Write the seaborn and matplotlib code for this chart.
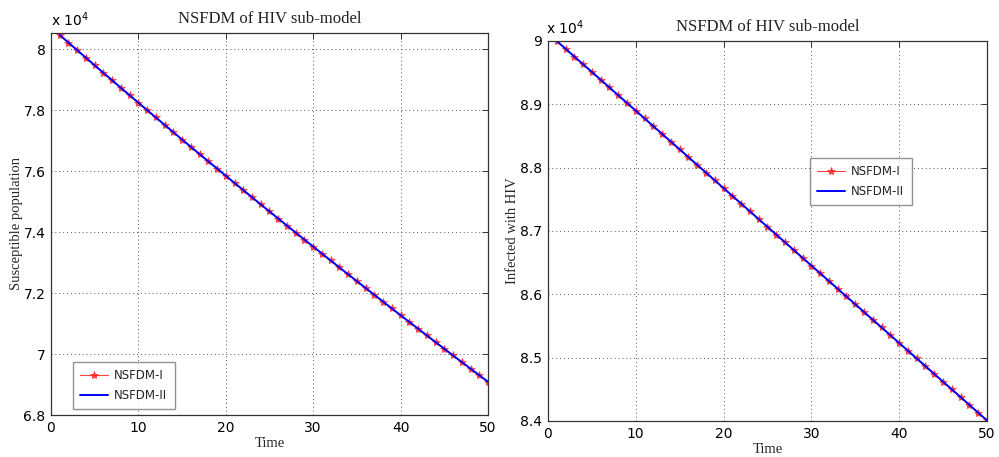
import numpy as np
import pandas as pd
import matplotlib
matplotlib.use("Agg")
import matplotlib.pyplot as plt
import seaborn as sns

# ---------------- data ----------------
time = list(range(1, 51))

susceptible_I = [80470, 80220, 79971, 79722, 79475, 79228, 78982, 78736, 78492, 78248,
                 78005, 77763, 77521, 77280, 77040, 76800, 76562, 76324, 76087, 75850,
                 75615, 75380, 75145, 74912, 74679, 74447, 74216, 73985, 73755, 73526,
                 73297, 73070, 72843, 72616, 72391, 72166, 71942, 71718, 71495, 71273,
                 71052, 70831, 70611, 70391, 70173, 69955, 69737, 69521, 69305, 69089]
susceptible_II = list(susceptible_I)

infected_I = [90000, 89878, 89755, 89633, 89511, 89389, 89266, 89144, 89022, 88900,
              88778, 88655, 88533, 88411, 88289, 88166, 88044, 87922, 87800, 87677,
              87555, 87433, 87311, 87188, 87066, 86944, 86822, 86699, 86577, 86455,
              86333, 86210, 86088, 85966, 85844, 85721, 85599, 85477, 85355, 85232,
              85110, 84988, 84866, 84743, 84621, 84499, 84377, 84254, 84132, 84010]
infected_II = list(infected_I)

series_names = ["NSFDM-I", "NSFDM-II"]
title_text = "NSFDM of HIV sub-model"
xlabel_text = "Time"
ylabel_left = "Susceptible population"
ylabel_right = "Infected with HIV"

xticks = [0, 10, 20, 30, 40, 50]
left_yticks = [68000, 70000, 72000, 74000, 76000, 78000, 80000]
left_yticklabels = ["6.8", "7", "7.2", "7.4", "7.6", "7.8", "8"]
right_yticks = [84000, 85000, 86000, 87000, 88000, 89000, 90000]
right_yticklabels = ["8.4", "8.5", "8.6", "8.7", "8.8", "8.9", "9"]

# ---------------- style ----------------
sns.set_style("white")
plt.rcParams["font.family"] = ["DejaVu Sans"]

fig = plt.figure(figsize=(9.99, 4.57), dpi=100)
ax1 = fig.add_axes([0.051, 0.0919, 0.4375, 0.8359])
ax2 = fig.add_axes([0.5485, 0.0788, 0.4394, 0.8315])

serif = ["Liberation Serif", "DejaVu Serif"]


def draw(ax, yI, yII, yticks, yticklabels, ylim, ylabel, leg_anchor, off_xy, ypad):
    dfI = pd.DataFrame({"t": time, "v": yI})
    dfII = pd.DataFrame({"t": time, "v": yII})
    sns.lineplot(data=dfI, x="t", y="v", ax=ax, color="#ff2020", lw=0.8,
                 marker="*", markersize=6, markeredgewidth=0.6,
                 markeredgecolor="#ff3030", alpha=0.85, label=series_names[0])
    sns.lineplot(data=dfII, x="t", y="v", ax=ax, color="#0000ff", lw=1.4,
                 label=series_names[1])
    ax.set_xlim(0, 50)
    ax.set_ylim(*ylim)
    ax.set_xticks(xticks)
    ax.set_xticklabels([str(x) for x in xticks])
    ax.set_yticks(yticks)
    ax.set_yticklabels(yticklabels)
    ax.grid(True, linestyle=(0, (1, 3)), color="#555555", lw=0.7)
    for s in ax.spines.values():
        s.set_visible(True)
        s.set_color("#333333")
        s.set_linewidth(0.9)
    ax.tick_params(direction="in", length=4, width=0.7, top=True, right=True,
                   labelsize=10, colors="#333333", labelcolor="black", pad=4)
    ax.set_title(title_text, fontsize=12, family=serif, pad=7, color="#222222")
    ax.set_xlabel(xlabel_text, fontsize=10.5, family=serif, labelpad=2)
    ax.set_ylabel(ylabel, fontsize=10.5, family=serif, labelpad=ypad)
    leg = ax.legend(loc="upper left", bbox_to_anchor=leg_anchor,
                    bbox_transform=fig.transFigure, fancybox=False, shadow=False,
                    frameon=True, fontsize=8.5, handlelength=2.4,
                    borderpad=0.6, labelspacing=0.6, handletextpad=0.5,
                    borderaxespad=0.0)
    leg.get_frame().set_edgecolor("#777777")
    leg.get_frame().set_linewidth(1.0)
    fig.text(off_xy[0], off_xy[1], r"x 10$^{4}$", fontsize=10, ha="left",
             va="bottom", color="black")


draw(ax1, susceptible_I, susceptible_II, left_yticks, left_yticklabels,
     (68000, 80535), ylabel_left, (0.0731, 0.2079), (0.051, 0.937), 0)
draw(ax2, infected_I, infected_II, right_yticks, right_yticklabels,
     (84000, 90000), ylabel_right, (0.8108, 0.6543), (0.547, 0.918), 1)

fig.savefig("out.png", dpi=100)
